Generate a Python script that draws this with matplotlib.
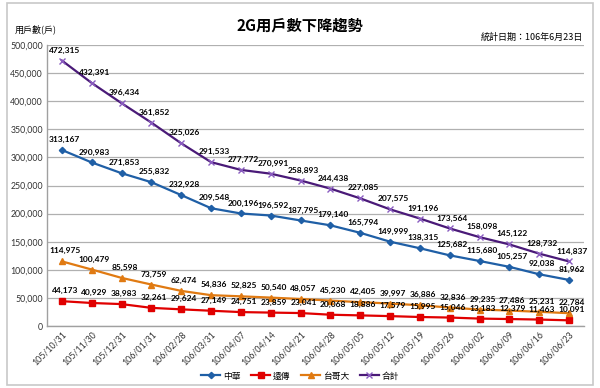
import matplotlib
matplotlib.use("Agg")
import matplotlib.pyplot as plt
from matplotlib.patches import Rectangle
from matplotlib.ticker import FuncFormatter, MultipleLocator

plt.rcParams['font.family'] = ['Lato', 'Noto Sans CJK TC', 'DejaVu Sans']

dates = ["105/10/31", "105/11/30", "105/12/31", "106/01/31", "106/02/28", "106/03/31",
         "106/04/07", "106/04/14", "106/04/21", "106/04/28", "106/05/05", "106/05/12",
         "106/05/19", "106/05/26", "106/06/02", "106/06/09", "106/06/16", "106/06/23"]
cht = [313167, 290983, 271853, 255832, 232928, 209548, 200196, 196592, 187795, 179140,
       165794, 149999, 138315, 125682, 115680, 105257, 92038, 81962]
fet = [44173, 40929, 38983, 32261, 29624, 27149, 24751, 23859, 23041, 20068,
       18886, 17579, 15995, 15046, 13183, 12379, 11463, 10091]
twm = [114975, 100479, 85598, 73759, 62474, 54836, 52825, 50540, 48057, 45230,
       42405, 39997, 36886, 32836, 29235, 27486, 25231, 22784]
total = [472315, 432391, 396434, 361852, 325026, 291533, 277772, 270991, 258893, 244438,
         227085, 207575, 191196, 173564, 158098, 145122, 128732, 114837]
series_names = ["中華", "遠傳", "台哥大", "合計"]

W, H = 600, 388
fig = plt.figure(figsize=(6, 3.88), dpi=100)
fig.patch.set_facecolor("white")

# outer frame
fig.patches.append(Rectangle((7 / W, 3 / H), 586 / W, 382 / H, transform=fig.transFigure,
                             fill=False, edgecolor="#c8c8c8", linewidth=1.2))

left, right, top, bottom = 47, 584, 45, 326
ax = fig.add_axes([left / W, (H - bottom) / H, (right - left) / W, (bottom - top) / H])

x = list(range(len(dates)))
styles = [
    (cht, "#1f5fa6", "D", 3.2, "#1f5fa6"),
    (fet, "#e00000", "s", 4.5, "#e00000"),
    (twm, "#e07a12", "^", 4.5, "#e07a12"),
    (total, "#4a1a78", "x", 4.5, "#8a5cc0"),
]
handles = []
for (vals, col, mk, ms, mcol), name in zip(styles, series_names):
    h, = ax.plot(x, vals, color=col, linewidth=1.6, marker=mk, markersize=ms,
                 markerfacecolor=mcol, markeredgecolor=mcol, markeredgewidth=1.0,
                 label=name, zorder=3)
    handles.append(h)
    for xi, v in zip(x, vals):
        ax.annotate(f"{v:,}", (xi, v), xytext=(2, 5), textcoords="offset points",
                    ha="center", va="bottom", fontsize=6, fontweight="bold",
                    color="black", zorder=4)

ax.set_xlim(-0.5, len(dates) - 0.5)
ax.set_ylim(0, 500000)
ax.yaxis.set_major_locator(MultipleLocator(50000))
ax.yaxis.set_major_formatter(FuncFormatter(lambda v, p: f"{int(v):,}"))
ax.grid(axis="y", color="#b0b0b0", linewidth=0.9)
ax.set_axisbelow(True)
ax.set_xticks(x)
ax.set_xticklabels(dates, rotation=45, ha="right", rotation_mode="anchor", fontsize=6.3,
                   color="#333333")
ax.tick_params(axis="y", labelsize=6.3, colors="#333333", length=0, pad=3)
ax.tick_params(axis="x", length=0, pad=3)
for s in ["top", "right"]:
    ax.spines[s].set_visible(False)
for s in ["left", "bottom"]:
    ax.spines[s].set_color("#a0a0a0")
    ax.spines[s].set_linewidth(1.0)

fig.text(300 / W, 1 - 25 / H, "2G用戶數下降趨勢", ha="center", va="center", fontsize=11,
         fontweight="bold", family=["Noto Sans CJK TC", "DejaVu Sans"])
fig.text(15 / W, 1 - 29 / H, "用戶數(戶)", ha="left", va="center", fontsize=6.5,
         family=["Noto Sans CJK TC", "DejaVu Sans"])
fig.text(583 / W, 1 - 37 / H, "統計日期：106年6月23日", ha="right", va="center", fontsize=6.5,
         family=["Noto Sans CJK TC", "DejaVu Sans"])

leg = fig.legend(handles=handles, labels=series_names, loc="center", ncol=4,
                 bbox_to_anchor=(300 / W, 1 - 376 / H), frameon=False, fontsize=6.3,
                 prop={"family": ["Noto Sans CJK TC", "DejaVu Sans"], "size": 6.3},
                 handlelength=2.2, columnspacing=1.2, handletextpad=0.3)

fig.savefig("out.png", dpi=100)
